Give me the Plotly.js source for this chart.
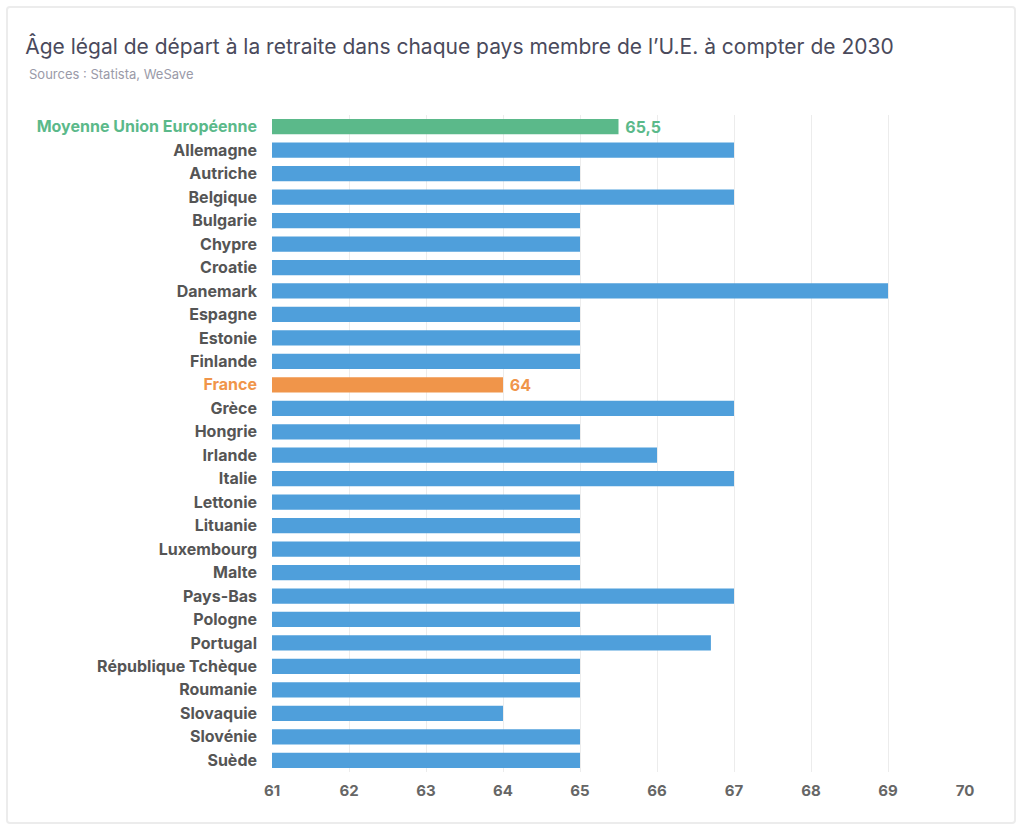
<!DOCTYPE html>
<html>
<head>
<meta charset="utf-8">
<script src="https://cdn.plot.ly/plotly-3.0.1.min.js"></script>
<style>
  body { margin: 0; background: #fff; }
  #chart { position: absolute; left: 6px; top: 6px; width: 1010px; height: 818px;
           border: 2px solid #ececec; border-radius: 4px; box-sizing: border-box; }
</style>
</head>
<body>
<div id="chart"></div>
<script>
const countries = ["Moyenne Union Européenne", "Allemagne", "Autriche", "Belgique", "Bulgarie", "Chypre",
    "Croatie", "Danemark", "Espagne", "Estonie", "Finlande", "France", "Grèce", "Hongrie", "Irlande",
    "Italie", "Lettonie", "Lituanie", "Luxembourg", "Malte", "Pays-Bas", "Pologne", "Portugal",
    "République Tchèque", "Roumanie", "Slovaquie", "Slovénie", "Suède"];
const ages = [65.5, 67, 65, 67, 65, 65, 65, 69, 65, 65, 65, 64, 67, 65, 66, 67, 65, 65, 65, 65, 67,
    65, 66.7, 65, 65, 64, 65, 65];
const xTicks = [61, 62, 63, 64, 65, 66, 67, 68, 69, 70];

const GREEN = "#5bb98a";
const ORANGE = "#f0954a";
const BLUE = "#4f9fdb";

function barColour(name) {
    if (name === "Moyenne Union Européenne") return GREEN;
    if (name === "France") return ORANGE;
    return BLUE;
}

const colours = countries.map(barColour);
const tickText = countries.map((c, i) =>
    colours[i] === BLUE ? c : `<span style="color:${colours[i]}">${c}</span>`);
const labels = countries.map((c, i) =>
    colours[i] === BLUE ? "" : " " + String(ages[i]).replace(".", ","));

const trace = {
    type: "bar",
    orientation: "h",
    y: countries,
    x: ages.map(a => a - 61),
    base: 61,
    marker: { color: colours },
    text: labels,
    textposition: "outside",
    constraintext: "none",
    cliponaxis: false,
    textfont: { color: colours, size: 16, family: "Inter", weight: 700 },
    hoverinfo: "skip"
};

const layout = {
    width: 1010,
    height: 818,
    margin: { l: 264, r: 53, t: 107, b: 54 },
    paper_bgcolor: "rgba(0,0,0,0)",
    plot_bgcolor: "#fff",
    font: { family: "Inter, sans-serif", color: "#555" },
    bargap: 0.35,
    showlegend: false,
    title: {
        text: "Âge légal de départ à la retraite dans chaque pays membre de l’U.E. à compter de 2030",
        x: 0.017, xanchor: "left", y: 0.962, yanchor: "top",
        font: { size: 21, color: "#4a4a5c", family: "Inter" }
    },
    annotations: [{
        text: "Sources : Statista, WeSave",
        xref: "paper", yref: "paper", x: -0.354, y: 1.078,
        xanchor: "left", showarrow: false,
        font: { size: 13, color: "#9a9aa8" }
    }],
    xaxis: {
        range: [61, 70],
        tickvals: xTicks,
        showgrid: true, gridcolor: "#ececec", gridwidth: 1,
        zeroline: false,
        tickfont: { size: 15, color: "#666", weight: 700 },
        ticks: "",
        ticklabelstandoff: 8
    },
    yaxis: {
        type: "category",
        autorange: "reversed",
        tickvals: countries,
        ticktext: tickText,
        tickfont: { size: 16, color: "#555", weight: 700 },
        ticks: "",
        ticklabelstandoff: 14,
        automargin: false
    }
};

Plotly.newPlot("chart", [trace], layout, { staticPlot: true });
</script>
</body>
</html>
